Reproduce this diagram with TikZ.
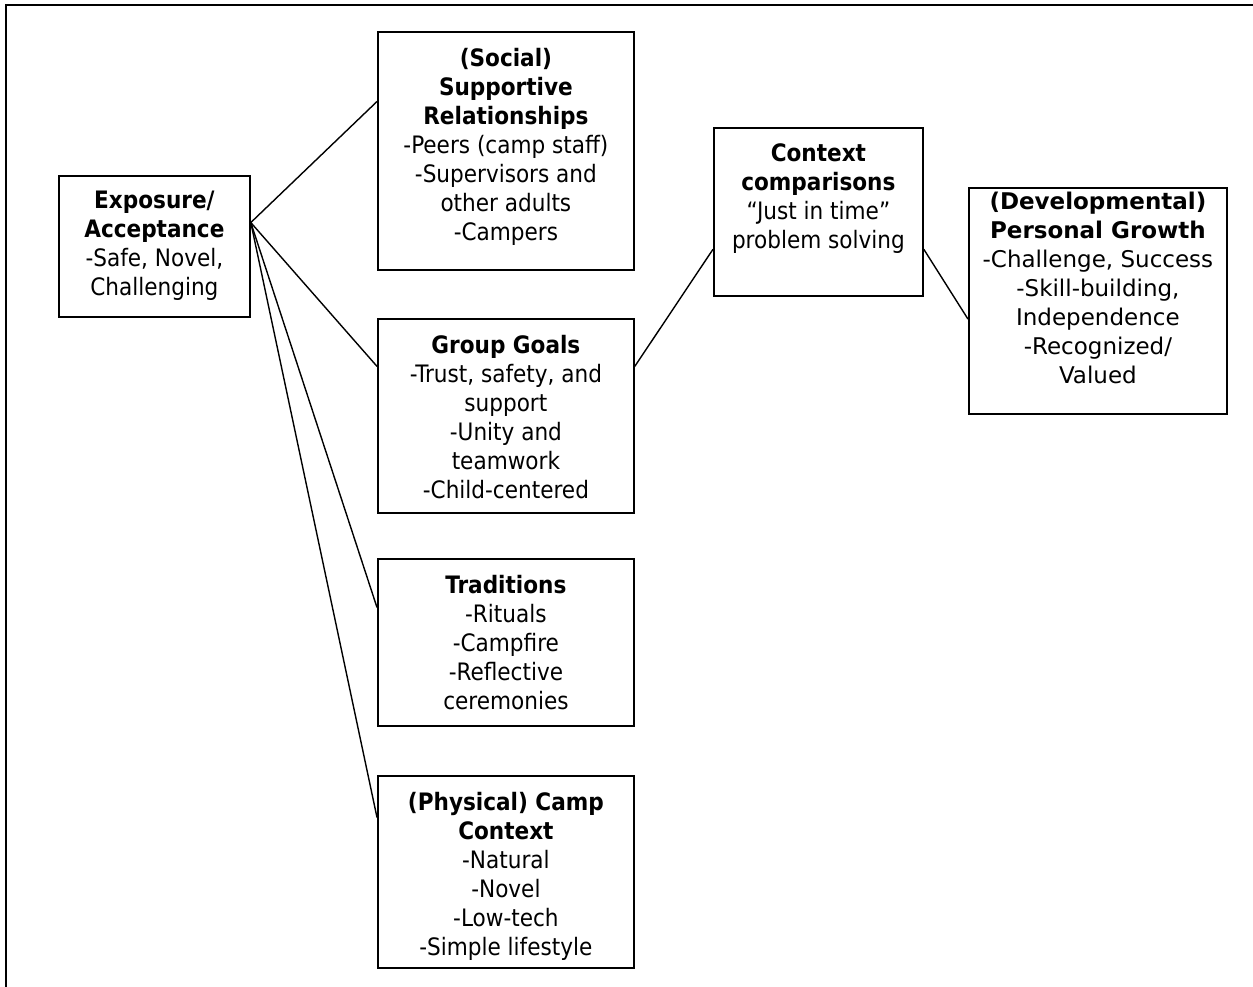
\documentclass[tikz,border=0pt]{standalone}
\usepackage{fontspec}
\usetikzlibrary{calc}
\newfontfamily\tahfont{DejaVu Sans Condensed}
\newfontfamily\verfont{DejaVu Sans}
\newcommand{\boxtext}[4]{\parbox[c][#2][t]{#1}{\centering\vspace*{#3}#4\par}}
\tikzset{
  conceptbox/.style={draw, line width=1.8pt, inner sep=0pt, anchor=north west, font=\tahfont\fontsize{24}{29}\selectfont},
  link/.style={line width=1.4pt},
  frameline/.style={line width=1.8pt}
}
\begin{document}
\begin{tikzpicture}[x=1pt,y=-1pt]
\useasboundingbox (0,0) rectangle (1253,987);
\draw[frameline] (6,987) -- (6,5) -- (1253,5);

\node[conceptbox] (exp) at (58,175) {\boxtext{191pt}{141pt}{15pt}{\textbf{Exposure/}\\\textbf{Acceptance}\\-Safe, Novel,\\Challenging}};
\node[conceptbox] (soc) at (377,31) {\boxtext{256pt}{238pt}{16pt}{\textbf{(Social)}\\\textbf{Supportive}\\\textbf{Relationships}\\-Peers (camp staff)\\-Supervisors and\\other adults\\-Campers}};
\node[conceptbox] (grp) at (377,318) {\boxtext{256pt}{194pt}{16pt}{\textbf{Group Goals}\\-Trust, safety, and\\support\\-Unity and\\teamwork\\-Child-centered}};
\node[conceptbox] (tra) at (377,558) {\boxtext{256pt}{167pt}{16pt}{\textbf{Traditions}\\-Rituals\\-Campfire\\-Reflective\\ceremonies}};
\node[conceptbox] (phy) at (377,775) {\boxtext{256pt}{192pt}{16pt}{\textbf{(Physical) Camp}\\\textbf{Context}\\-Natural\\-Novel\\-Low-tech\\-Simple lifestyle}};
\node[conceptbox] (ctx) at (713,127) {\boxtext{209pt}{168pt}{16pt}{\textbf{Context}\\\textbf{comparisons}\\“Just in time”\\problem solving}};
\node[conceptbox, font=\verfont\fontsize{23}{29}\selectfont] (pg) at (968,187) {\boxtext{258pt}{226pt}{4pt}{\textbf{(Developmental)}\\\textbf{Personal Growth}\\-Challenge, Success\\-Skill-building,\\Independence\\-Recognized/\\Valued}};

\coordinate (expR) at ($(exp.north east)!0.333!(exp.south east)$);
\coordinate (socL) at ($(soc.north west)!0.294!(soc.south west)$);
\coordinate (grpL) at ($(grp.north west)!0.247!(grp.south west)$);
\coordinate (grpR) at ($(grp.north east)!0.247!(grp.south east)$);
\coordinate (traL) at ($(tra.north west)!0.293!(tra.south west)$);
\coordinate (phyL) at ($(phy.north west)!0.219!(phy.south west)$);
\coordinate (ctxL) at ($(ctx.north west)!0.72!(ctx.south west)$);
\coordinate (ctxR) at ($(ctx.north east)!0.72!(ctx.south east)$);
\coordinate (pgL) at ($(pg.north west)!0.58!(pg.south west)$);

\draw[link] (expR) -- (socL);
\draw[link] (expR) -- (grpL);
\draw[link] (expR) -- (traL);
\draw[link] (expR) -- (phyL);
\draw[link] (grpR) -- (ctxL);
\draw[link] (ctxR) -- (pgL);
\end{tikzpicture}
\end{document}
